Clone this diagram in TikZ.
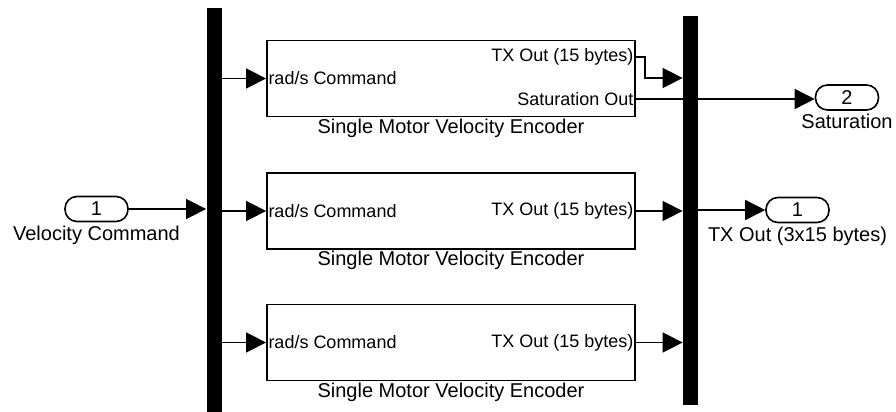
\documentclass[tikz,border=0pt]{standalone}
\usepackage{fontspec}
\setmainfont{Liberation Sans}
\usetikzlibrary{positioning}
\usetikzlibrary{arrows.meta}
\tikzset{
  encbox/.style={draw,line width=0.9pt,minimum width=184pt,minimum height=38pt,inner sep=0pt},
  busbar/.style={fill=black,inner sep=0pt,minimum width=7.5pt},
  port/.style={draw,line width=0.8pt,rounded corners=6pt,minimum width=31.5pt,minimum height=12.5pt,inner sep=0pt,font=\fontsize{10pt}{11pt}\selectfont},
  sig/.style={line width=0.8pt,-{Triangle[length=10pt,width=10pt]}},
  lbl/.style={inner sep=1pt},
  blklbl/.style={inner sep=0.5pt,font=\fontsize{10pt}{11pt}\selectfont}
}
\begin{document}
\begin{tikzpicture}[x=0.5pt,y=-0.5pt,font=\fontsize{9pt}{10pt}\selectfont]
\useasboundingbox (0,0) rectangle (896,412);

% bus bars
\node[busbar,minimum height=206pt] (dmx) at (214,214) {};
\node[busbar,minimum height=194.5pt] (mx) at (690.5,210.5) {};

% encoder blocks
\node[encbox] (enc1) at (451,78.5) {};
\node[encbox] (enc2) at (451,211) {};
\node[encbox] (enc3) at (451,342.5) {};
\foreach \n in {1,2,3} {
  \node[lbl,anchor=west] (cmd\n) at (enc\n.west) {rad/s Command};
  \node[blklbl,below=0pt of enc\n] (name\n) {Single Motor Velocity Encoder};
}
\node[lbl,anchor=east] (tx1) at (enc1.east |- 0,57) {TX Out (15 bytes)};
\node[lbl,anchor=east] (sat1) at (enc1.east |- 0,99) {Saturation Out};
\node[lbl,anchor=east] (tx2) at (enc2.east) {TX Out (15 bytes)};
\node[lbl,anchor=east] (tx3) at (enc3.east) {TX Out (15 bytes)};

% ports
\node[port] (in1) at (96.5,209) {1};
\node[blklbl,below=1pt of in1] (in1l) {Velocity Command};
\node[port] (out1) at (797.5,210) {1};
\node[blklbl,below=1pt of out1] (out1l) {TX Out (3x15 bytes)};
\node[port] (out2) at (847,97.5) {2};
\node[blklbl,below=1pt of out2] (out2l) {Saturation};
\coordinate (bend1) at (645,57);

% signals
\draw[sig] (in1.east) -- (in1.east -| dmx.west);
\foreach \n in {1,2,3} {
  \draw[sig] (enc\n.west -| dmx.east) -- (enc\n.west);
}
\draw[sig] (tx1.east -| enc1.east) -- (bend1) |- (mx.west |- 0,78);
\draw[sig] (sat1.east -| enc1.east) -- (sat1.east -| out2.west);
\draw[sig] (enc2.east) -- (enc2.east -| mx.west);
\draw[sig] (enc3.east) -- (enc3.east -| mx.west);
\draw[sig] (out1.west -| mx.east) -- (out1.west);
\end{tikzpicture}
\end{document}
